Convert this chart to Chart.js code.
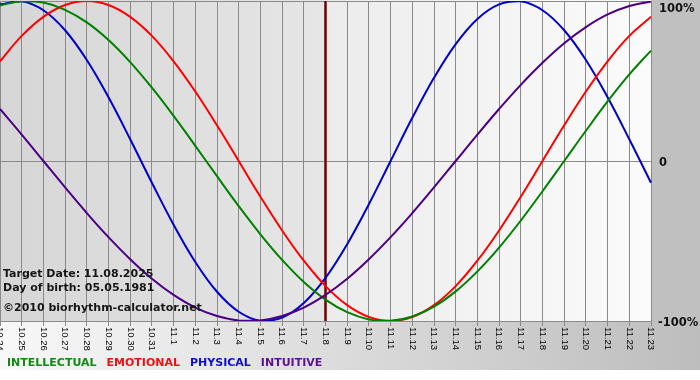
<!DOCTYPE html>
<html><head><meta charset="utf-8">
<script src="https://cdn.jsdelivr.net/npm/chart.js@4.4.1/dist/chart.umd.min.js"></script>
<style>html,body{margin:0;padding:0;background:#fff;overflow:hidden}canvas{display:block}</style>
</head><body>
<canvas id="c" width="700" height="380"></canvas>
<script>
const dateLabels = ['10.24','10.25','10.26','10.27','10.28','10.29','10.30','10.31','11.1','11.2','11.3','11.4','11.5','11.6','11.7','11.8','11.9','11.10','11.11','11.12','11.13','11.14','11.15','11.16','11.17','11.18','11.19','11.20','11.21','11.22','11.23'];
const intellectual = [0.972,0.999,0.990,0.945,0.866,0.756,0.618,0.458,0.282,0.095,-0.095,-0.282,-0.458,-0.618,-0.756,-0.866,-0.945,-0.990,-0.999,-0.972,-0.910,-0.815,-0.690,-0.541,-0.372,-0.189,0,0.189,0.372,0.541,0.690];
const emotional = [0.623,0.782,0.901,0.975,1,0.975,0.901,0.782,0.623,0.434,0.223,0,-0.223,-0.434,-0.623,-0.782,-0.901,-0.975,-1,-0.975,-0.901,-0.782,-0.623,-0.434,-0.223,0,0.223,0.434,0.623,0.782,0.901];
const physical = [0.979,0.998,0.942,0.817,0.631,0.398,0.136,-0.136,-0.398,-0.631,-0.817,-0.942,-0.998,-0.979,-0.888,-0.731,-0.520,-0.270,0,0.270,0.520,0.731,0.888,0.979,0.998,0.942,0.817,0.631,0.398,0.136,-0.136];
const intuitive = [0.325,0.165,0,-0.165,-0.325,-0.476,-0.614,-0.736,-0.837,-0.916,-0.969,-0.997,-0.997,-0.969,-0.916,-0.837,-0.736,-0.614,-0.476,-0.325,-0.165,0,0.165,0.325,0.476,0.614,0.736,0.837,0.916,0.969,0.997];
const targetDate = '11.8';
const infoLines = ['Target Date: 11.08.2025','Day of birth: 05.05.1981','\u00A92010 biorhythm-calculator.net'];
const yTickValues = [1, 0, -1];
const yTickLabels = ['100%', '0', '-100%'];

const decor = {
  id: 'decor',
  beforeDraw(chart) {
    const {ctx, chartArea: a, width: W} = chart;
    const x = chart.scales.x;
    const tx = x.getPixelForValue(dateLabels.indexOf(targetDate));
    ctx.save();
    ctx.fillStyle = '#ffffff';
    ctx.fillRect(0, 0, W, chart.height);
    // bottom strip
    let g = ctx.createLinearGradient(0, 0, W, 0);
    g.addColorStop(0, '#f8f8f8'); g.addColorStop(1, '#bdbdbd');
    ctx.fillStyle = g;
    ctx.fillRect(0, a.bottom, W, 370 - a.bottom);
    // right panel
    ctx.fillStyle = '#c0c0c0';
    ctx.fillRect(a.right, 0, W - a.right, a.bottom);
    // past area
    g = ctx.createLinearGradient(a.left, 0, tx, 0);
    g.addColorStop(0, '#d6d6d6'); g.addColorStop(1, '#e6e6e6');
    ctx.fillStyle = g;
    ctx.fillRect(a.left, a.top - 1, tx - a.left, a.bottom - a.top + 1);
    // future area
    g = ctx.createLinearGradient(tx, 0, a.right, 0);
    g.addColorStop(0, '#ececec'); g.addColorStop(1, '#fbfbfb');
    ctx.fillStyle = g;
    ctx.fillRect(tx, a.top - 1, a.right - tx, a.bottom - a.top + 1);
    ctx.restore();
  },
  beforeDatasetsDraw(chart) {
    const {ctx, chartArea: a} = chart;
    const tx = chart.scales.x.getPixelForValue(dateLabels.indexOf(targetDate));
    ctx.save();
    ctx.strokeStyle = '#b07070';
    ctx.lineWidth = 3;
    ctx.beginPath(); ctx.moveTo(tx, a.top); ctx.lineTo(tx, a.bottom); ctx.stroke();
    ctx.strokeStyle = '#700000';
    ctx.lineWidth = 2;
    ctx.beginPath(); ctx.moveTo(tx, a.top); ctx.lineTo(tx, a.bottom); ctx.stroke();
    ctx.restore();
  },
  afterDraw(chart) {
    const {ctx, chartArea: a} = chart;
    const xs = chart.scales.x, ys = chart.scales.y;
    ctx.save();
    // rotated x tick labels
    ctx.fillStyle = '#000';
    ctx.font = '9.5px "Liberation Sans", Arial, sans-serif';
    ctx.textAlign = 'left';
    ctx.textBaseline = 'middle';
    dateLabels.forEach((lab, i) => {
      const px = xs.getPixelForTick(i);
      ctx.save();
      ctx.translate(px, a.bottom + 6);
      ctx.rotate(Math.PI / 2);
      ctx.fillText(lab, 0, 0);
      ctx.restore();
    });
    // right axis labels
    ctx.font = 'bold 11.5px "DejaVu Sans", sans-serif';
    ctx.textBaseline = 'alphabetic';
    ctx.fillStyle = '#111';
    yTickValues.forEach((v, i) => {
      const py = ys.getPixelForValue(v);
      ctx.fillText(yTickLabels[i], a.right + (v < 0 ? 7 : 8), Math.max(py + 5, 12));
    });
    // info text
    ctx.font = 'bold 11px "DejaVu Sans", sans-serif';
    ctx.fillStyle = '#151515';
    const infoY = [277, 291, 311];
    infoLines.forEach((t, i) => ctx.fillText(t, 3, infoY[i]));
    // legend
    ctx.font = 'bold 11px "DejaVu Sans", sans-serif';
    let lx = 7;
    const legendOrder = [1, 2, 3, 0];
    legendOrder.forEach(di => {
      const ds = chart.data.datasets[di];
      ctx.fillStyle = ds.legendColor;
      ctx.fillText(ds.label, lx, 366);
      lx += ctx.measureText(ds.label).width + 10;
    });
    ctx.restore();
  }
};

new Chart(document.getElementById('c'), {
  type: 'line',
  data: {
    labels: dateLabels,
    datasets: [
      {label: 'INTUITIVE', data: intuitive, borderColor: '#4b0082', legendColor: '#5a1292', order: 0},
      {label: 'INTELLECTUAL', data: intellectual, borderColor: '#008000', legendColor: '#108a10', order: 1},
      {label: 'EMOTIONAL', data: emotional, borderColor: '#ff0000', legendColor: '#ee1111', order: 2},
      {label: 'PHYSICAL', data: physical, borderColor: '#0000cc', legendColor: '#1010cc', order: 3}
    ].map(d => Object.assign(d, {borderWidth: 2, pointRadius: 0, tension: 0.4, fill: false}))
  },
  options: {
    responsive: false,
    devicePixelRatio: 1,
    animation: false,
    layout: {padding: {left: 0, right: 49, top: 1, bottom: 54}},
    plugins: {legend: {display: false}, tooltip: {enabled: false}},
    scales: {
      x: {
        offset: false,
        grid: {color: '#8a8a8a', lineWidth: 1, drawTicks: true, tickLength: 5, tickColor: '#8a8a8a'},
        border: {display: true, color: '#8a8a8a'},
        ticks: {display: false, autoSkip: false}
      },
      y: {
        min: -1, max: 1,
        ticks: {display: false, stepSize: 1},
        grid: {color: '#8a8a8a', drawTicks: false},
        border: {display: false}
      }
    }
  },
  plugins: [decor]
});
</script>
</body></html>
